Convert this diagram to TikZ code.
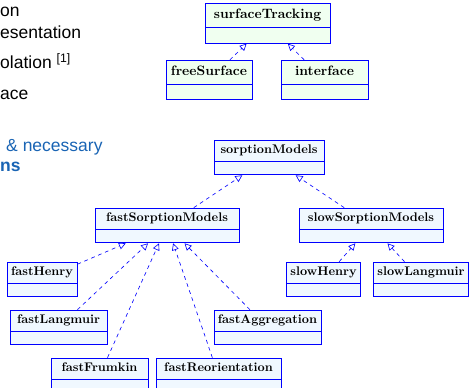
\documentclass[tikz,border=0pt]{standalone}
\usepackage{fontspec}
\newfontfamily\slidefont{Liberation Sans}
\usetikzlibrary{shapes.multipart,arrows.meta}

\definecolor{slideblue}{RGB}{25,100,180}
\definecolor{classgreen}{RGB}{240,255,240}
\definecolor{classblue}{RGB}{240,248,255}

\tikzset{
  umlclass/.style={rectangle split, rectangle split parts=2, draw=blue, line width=0.7pt, fill=classblue,
    font=\bfseries, inner xsep=3pt, inner ysep=2pt,
    rectangle split empty part height=6.4pt, rectangle split empty part depth=0pt},
  trackclass/.style={umlclass, fill=classgreen, font=\fontsize{10.9}{13}\selectfont\bfseries,
    inner ysep=2.7pt, rectangle split empty part height=5.8pt},
  inherit/.style={draw=blue, dashed, line width=0.5pt, -{Triangle[open, length=5.5pt, width=5.5pt]}},
  slidetext/.style={anchor=base west, inner sep=0pt, font=\slidefont\fontsize{14}{17}\selectfont}
}

\begin{document}
\begin{tikzpicture}[x=0.8pt, y=-0.8pt]
		\useasboundingbox (0,0) rectangle (469,388);
		\clip (0,0) rectangle (469,388);
		
		% Testo della slide (tagliato)
		\node[slidetext] (txtOn) at (0,17) {on};
		\node[slidetext] (txtRepr) at (0,39) {esentation};
		\node[slidetext] (txtInterp) at (0,69) {olation \textsuperscript{[1]}};
		\node[slidetext] (txtIface) at (0,100) {ace};
		\node[slidetext, text=slideblue] (txtNecessary) at (6,152) {\& necessary};
		\node[slidetext, text=slideblue, font=\slidefont\fontsize{14}{17}\selectfont\bfseries] (txtNs) at (0,172) {ns};
		
		% Classi surfaceTracking
		\node[trackclass, minimum width=100pt] (surfaceTracking) at (267.5,23.5) {\strut surfaceTracking};
		\node[trackclass, minimum width=68.8pt] (freeSurface) at (209,80) {\strut freeSurface};
		\node[trackclass, minimum width=69.6pt] (interface) at (324.5,80) {\strut interface};
		
		% Classi sorptionModels
		\node[umlclass, minimum width=88pt] (sorptionModels) at (269,157.5) {\strut sorptionModels};
		\node[umlclass, minimum width=115.2pt] (fastSorptionModels) at (167,225.5) {\strut fastSorptionModels};
		\node[umlclass, minimum width=115.2pt] (slowSorptionModels) at (371,225.5) {\strut slowSorptionModels};
		\node[umlclass, minimum width=56.8pt] (slowHenry) at (323.5,279.5) {\strut slowHenry};
		\node[umlclass, minimum width=74.4pt] (slowLangmuir) at (421,279.5) {\strut slowLangmuir};
		\node[umlclass, minimum width=56pt] (fastHenry) at (42,279.5) {\strut fastHenry};
		\node[umlclass, minimum width=77.6pt] (fastLangmuir) at (58.5,327.5) {\strut fastLangmuir};
		\node[umlclass, minimum width=85.6pt] (fastAggregation) at (267.5,327.5) {\strut fastAggregation};
		\node[umlclass, minimum width=77.6pt] (fastFrumkin) at (99.5,375.5) {\strut fastFrumkin};
		\node[umlclass, minimum width=100pt] (fastReorientation) at (218.5,375.5) {\strut fastReorientation};
		
		% Ereditarieta'
		\draw[inherit] (freeSurface) -- (surfaceTracking);
		\draw[inherit] (interface) -- (surfaceTracking);
		\draw[inherit] (fastSorptionModels) -- (sorptionModels);
		\draw[inherit] (slowSorptionModels) -- (sorptionModels);
		\draw[inherit] (slowHenry) -- (slowSorptionModels);
		\draw[inherit] (slowLangmuir) -- (slowSorptionModels);
		\foreach \child in {fastHenry, fastLangmuir, fastFrumkin, fastReorientation, fastAggregation}
			\draw[inherit] (\child) -- (fastSorptionModels);
	\end{tikzpicture}
\end{document}
